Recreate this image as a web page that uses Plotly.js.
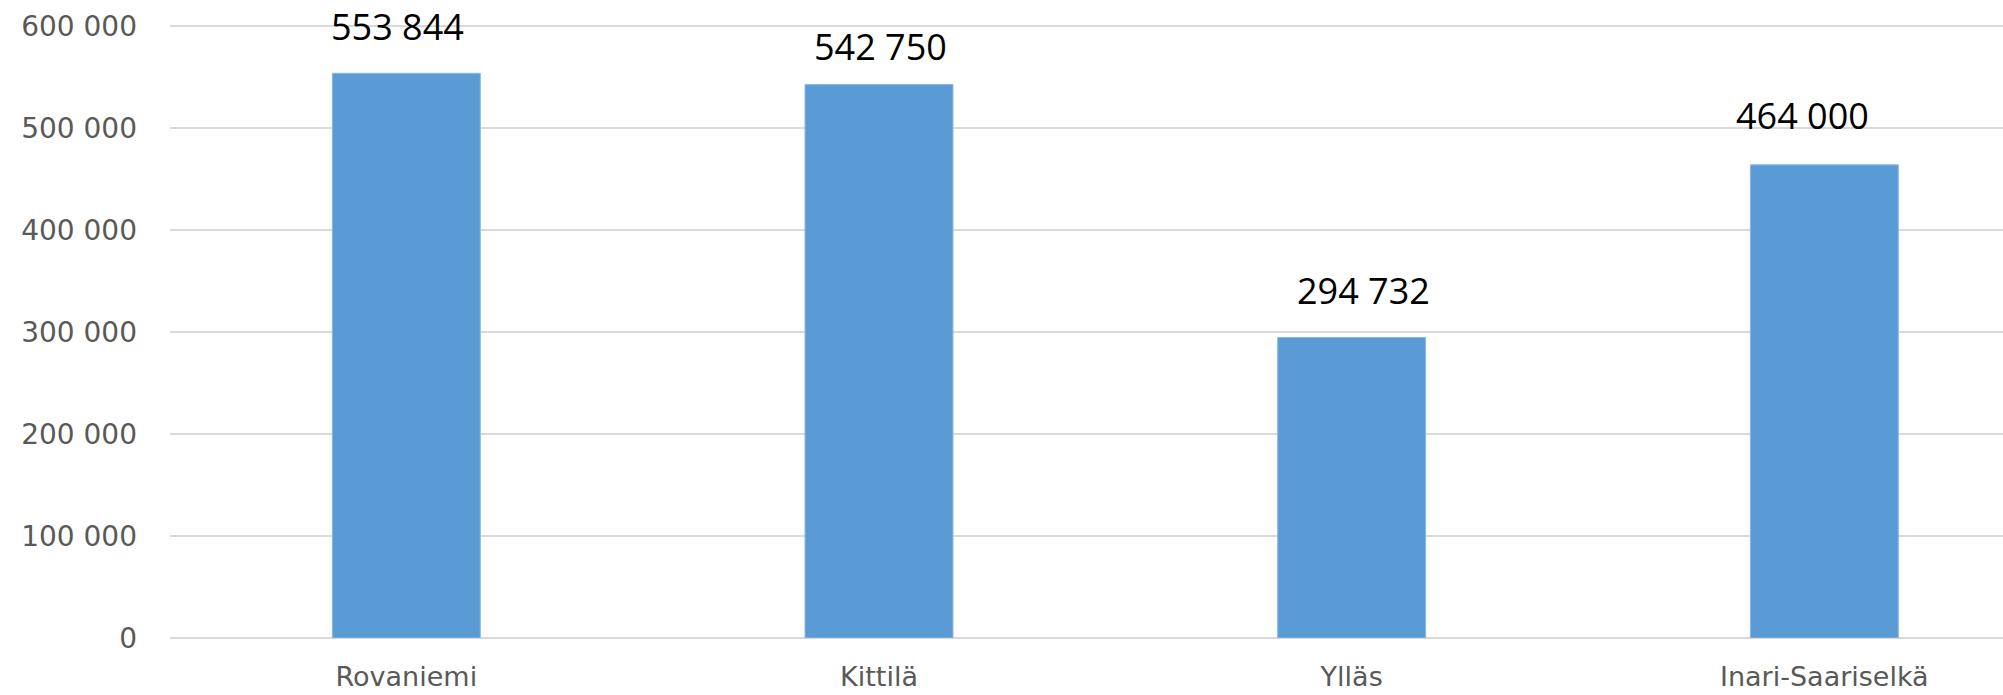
<!DOCTYPE html>
<html>
<head>
<meta charset="utf-8">
<script src="https://cdn.plot.ly/plotly-3.0.1.min.js"></script>
<style>html,body{margin:0;padding:0;background:#fff;}#chart{width:2003px;height:695px;}</style>
</head>
<body>
<div id="chart"></div>
<script>
const categories = ["Rovaniemi", "Kittilä", "Ylläs", "Inari-Saariselkä"];
const values = [553844, 542750, 294732, 464000];
const tickValues = [0, 100000, 200000, 300000, 400000, 500000, 600000];
const tickLabels = ["0", "100 000", "200 000", "300 000", "400 000", "500 000", "600 000"];

// label nudges (styling only, pixels)
const labelShiftX = [-9, 1, 12, -22];
const labelShiftY = [47, 38, 47, 49];

function fmt(v) { return String(v).replace(/\B(?=(\d{3})+(?!\d))/g, " "); }

const trace = {
  type: "bar",
  x: categories,
  y: values,
  width: 0.313,
  marker: { color: "#5B9BD5", line: { color: "#8ab8e3", width: 1 } },
  hoverinfo: "skip"
};

const annotations = categories.map((c, i) => ({
  x: c, y: values[i], xref: "x", yref: "y",
  text: fmt(values[i]), showarrow: false,
  xanchor: "center", yanchor: "middle",
  xshift: labelShiftX[i], yshift: labelShiftY[i],
  font: { family: "Open Sans, sans-serif", size: 36, color: "#000000" }
}));

const layout = {
  width: 2003, height: 695,
  margin: { l: 170, r: 0, t: 16, b: 57 },
  paper_bgcolor: "#ffffff", plot_bgcolor: "#ffffff",
  showlegend: false,
  bargap: 0,
  xaxis: {
    type: "category",
    range: [-0.5, 3.378],
    showgrid: false, zeroline: false, showline: false, ticks: "",
    tickfont: { family: "DejaVu Sans, sans-serif", size: 27, color: "#595959" },
    ticklabelstandoff: 20,
    fixedrange: true
  },
  yaxis: {
    range: [0, 610000],
    tickvals: tickValues, ticktext: tickLabels,
    showgrid: true, gridcolor: "#d9d9d9", gridwidth: 2,
    zeroline: true, zerolinecolor: "#d9d9d9", zerolinewidth: 2,
    showline: false, ticks: "",
    tickfont: { family: "DejaVu Sans, sans-serif", size: 28, color: "#595959" },
    ticklabelstandoff: 32,
    fixedrange: true
  },
  annotations: annotations
};

Plotly.newPlot("chart", [trace], layout, { displayModeBar: false, staticPlot: true });
</script>
</body>
</html>
